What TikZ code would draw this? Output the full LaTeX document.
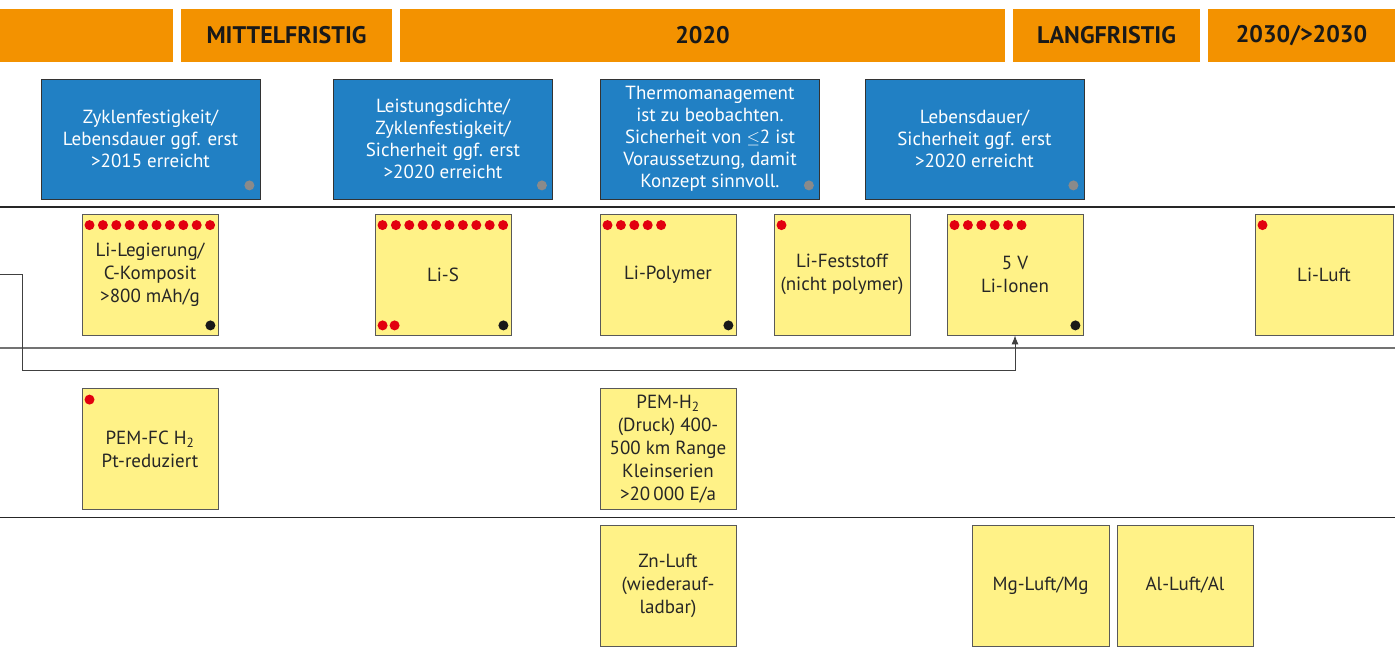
\documentclass[tikz,border=0pt]{standalone}
\usepackage{fontspec}
\setmainfont{PT Sans}
\usetikzlibrary{arrows.meta}

\definecolor{fhorange}{HTML}{F39200}
\definecolor{fhblau}{HTML}{2180C4}
\definecolor{notizgelb}{HTML}{FFF287}
\definecolor{punktrot}{HTML}{E2000F}
\definecolor{punktgrau}{HTML}{8A8A8A}

\tikzset{
  kopf/.style={fill=fhorange, minimum height=53pt, inner sep=0pt,
    font=\fontsize{24}{28}\selectfont\bfseries, text=black!90},
  hinweis/.style={fill=fhblau, draw=black!80, line width=0.8pt,
    minimum width=219pt, minimum height=120pt, inner sep=0pt, align=center,
    text=white, font=\fontsize{19}{22}\selectfont},
  tech/.style={fill=notizgelb, draw=black!65, line width=0.8pt,
    minimum width=136pt, minimum height=121pt, inner sep=0pt, align=center,
    text=black!85, font=\fontsize{19}{23}\selectfont},
}

\newcommand{\rotpunkte}[2]{%
  \foreach \i in {1,...,#2}
    {\fill[punktrot] ([shift={(-5.5+13.4*\i,11.5)}]#1.north west) circle[radius=5pt];}}
\newcommand{\schwarzpunkt}[1]{%
  \fill[black!90] ([shift={(-8,-10)}]#1.south east) circle[radius=5pt];}
\newcommand{\graupunkt}[1]{%
  \fill[punktgrau] ([shift={(-11,-14)}]#1.south east) circle[radius=5pt];}

\begin{document}
\begin{tikzpicture}[x=1pt,y=-1pt]

    \useasboundingbox (0,0) rectangle (1395,650);

    \node [kopf, minimum width=173pt] (leer) at (86.5,35.5) {};
    \node [kopf, minimum width=211pt] (mittel) at (286.5,35.5) {MITTELFRISTIG};
    \node [kopf, minimum width=605pt] (jahr) at (702.5,35.5) {2020};
    \node [kopf, minimum width=187pt] (lang) at (1106.5,35.5) {LANGFRISTIG};
    \node [kopf, minimum width=187pt] (spaet) at (1301.5,35.5) {2030/>2030};

    \node [hinweis] (h1) at (150.5,139) {Zyklenfestigkeit/\\Lebensdauer ggf. erst\\>2015 erreicht};
    \node [hinweis] (h2) at (443,139) {Leistungsdichte/\\Zyklenfestigkeit/\\Sicherheit ggf. erst\\>2020 erreicht};
    \node [hinweis] (h3) at (710,139) {Thermomanagement\\ist zu beobachten.\\Sicherheit von $\le$2 ist\\Voraussetzung, damit\\Konzept sinnvoll.};
    \node [hinweis] (h4) at (974.5,139) {Lebensdauer/\\Sicherheit ggf. erst\\>2020 erreicht};
    \foreach \h in {h1,h2,h3,h4} {\graupunkt{\h}}

    \draw [line width=2.5pt, black!85] (0,207) -- (1395,207);
    \draw [line width=1.2pt, black!55] (0,348) -- (1395,348);
    \draw [line width=1pt, black!85] (0,517) -- (1395,517);

    \node [tech] (legier) at (150,274.5) {Li-Legierung/\\C-Komposit\\>800 mAh/g};
    \node [tech] (lis) at (443,274.5) {Li-S};
    \node [tech] (polymer) at (668,274.5) {Li-Polymer};
    \node [tech] (fest) at (842,274.5) {Li-Feststoff\\(nicht polymer)};
    \node [tech] (ionen) at (1015,274.5) {5 V\\Li-Ionen};
    \node [tech, minimum width=138pt] (luft) at (1324,274.5) {Li-Luft};

    \node [tech] (pemfc) at (150,449) {PEM-FC H\textsubscript{2}\\Pt-reduziert};
    \node [tech] (pemh) at (668,449) {PEM-H\textsubscript{2}\\(Druck) 400-\\500 km Range\\Kleinserien\\>20\,000 E/a};

    \node [tech] (zn) at (668,585.5) {Zn-Luft\\(wiederauf-\\ladbar)};
    \node [tech, minimum width=137pt] (mg) at (1040.5,585.5) {Mg-Luft/Mg};
    \node [tech] (al) at (1185,585.5) {Al-Luft/Al};

    \rotpunkte{legier}{10}
    \rotpunkte{lis}{10}
    \rotpunkte{polymer}{5}
    \rotpunkte{fest}{1}
    \rotpunkte{ionen}{6}
    \rotpunkte{luft}{1}
    \rotpunkte{pemfc}{1}
    \foreach \dx in {8,20}
        {\fill [punktrot] ([shift={(\dx,-10)}]lis.south west) circle[radius=5pt];}
    \foreach \t in {legier,lis,polymer,ionen} {\schwarzpunkt{\t}}

    \coordinate (quelle) at (0,274);
    \draw [-{Latex[length=9pt,width=7pt]}, black!75, line width=0.9pt]
        (quelle) -| (22,370) -| (ionen.south);

\end{tikzpicture}
\end{document}
